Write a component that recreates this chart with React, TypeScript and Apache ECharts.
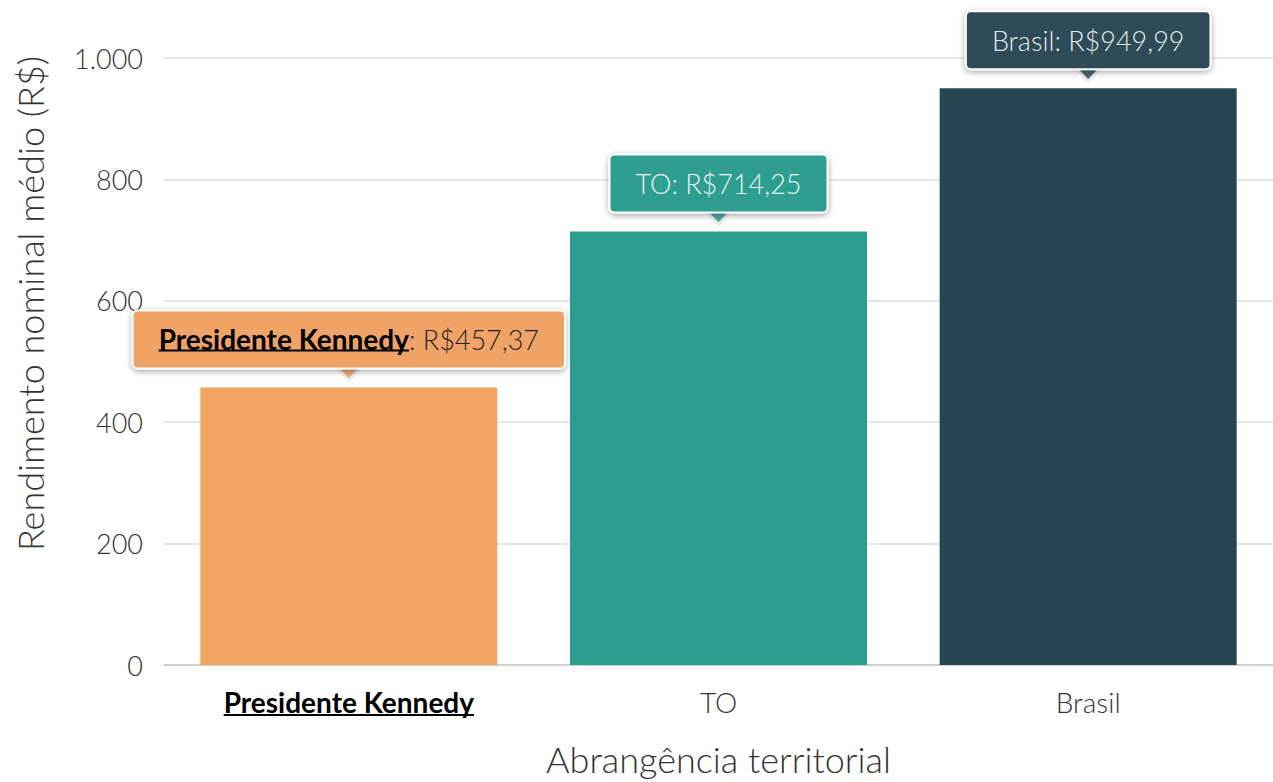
import React, { useEffect, useRef } from "react";
import * as echarts from "echarts";

const categories = ["Presidente Kennedy", "TO", "Brasil"];
const values = [457.37, 714.25, 949.99];
const barColors = ["#f2a462", "#2a9d8f", "#264653"];
const boxColors = ["#f0a366", "#2f9e90", "#2d4c59"];
const boxTextColors = ["#1e1e1e", "#e8f5f3", "#e3e9eb"];
const yTicks = [0, 200, 400, 600, 800, 1000];
const highlighted = "Presidente Kennedy";

const FONT = "Lato";
const LIGHT = "'Lato Light', Lato";

const fmtMoney = (v: number) => "R$" + v.toFixed(2).replace(".", ",");
const fmtThousands = (v: number) =>
  String(Math.round(v)).replace(/\B(?=(\d{3})+(?!\d))/g, ".");

function measure(text: string, font: string) {
  const c = document.createElement("canvas");
  const ctx = c.getContext("2d")!;
  ctx.font = font;
  return ctx.measureText(text).width;
}

export default function App() {
  const ref = useRef<HTMLDivElement>(null);

  useEffect(() => {
    if (!ref.current) return;
    const chart = echarts.init(ref.current, null, { renderer: "svg" });
    const labelDistance = 20;
    const labelPad = [13, 25];
    const xLabelMargin = 23;
    const option: any = {
      animation: false,
      grid: { left: 164, top: 58, width: 1112, bottom: 114, containLabel: false },
      xAxis: {
        type: "category",
        data: categories,
        axisLine: { lineStyle: { color: "#c8c8c8", width: 1.5 } },
        axisTick: { show: false },
        axisLabel: {
          margin: xLabelMargin,
          fontFamily: LIGHT,
          fontSize: 28,
          fontWeight: 300,
          color: "#333",
          formatter: (v: string) => (v === highlighted ? "{h|" + v + "}" : v),
          rich: {
            h: { fontFamily: FONT, fontSize: 28, fontWeight: "bold", color: "#000" },
          },
        },
        name: "Abrangência territorial",
        nameLocation: "middle",
        nameGap: 76,
        nameTextStyle: { fontFamily: LIGHT, fontSize: 36, fontWeight: 300, color: "#333" },
      },
      yAxis: {
        type: "value",
        min: 0,
        max: 1000,
        interval: 200,
        axisLine: { show: false },
        axisTick: { show: false },
        splitLine: { lineStyle: { color: "#dcdcdc", width: 1.5 } },
        axisLabel: {
          margin: 21,
          fontFamily: LIGHT,
          fontSize: 27,
          fontWeight: 300,
          color: "#333",
          formatter: (v: number) => (yTicks.includes(v) ? fmtThousands(v) : ""),
        },
        name: "Rendimento nominal médio (R$)",
        nameLocation: "middle",
        nameGap: 116,
        nameTextStyle: {
          fontFamily: LIGHT,
          fontSize: 36,
          fontWeight: 300,
          color: "#333",
          padding: [0, 0, 0, 116],
        },
      },
      series: [
        {
          type: "scatter",
          z: 1,
          data: values.map((v, i) => ({
            value: v,
            itemStyle: {
              color: boxColors[i],
              borderColor: "#fff",
              borderWidth: 1.5,
              shadowColor: "rgba(0,0,0,0.3)",
              shadowBlur: 3,
              shadowOffsetY: 1,
            },
          })),
          symbol: "triangle",
          symbolRotate: 180,
          symbolSize: [30, 16],
          symbolOffset: [0, -16],
          silent: true,
        },
        {
          type: "bar",
          z: 2,
          barWidth: 297,
          data: values.map((v, i) => ({
            value: v,
            itemStyle: { color: barColors[i] },
            label: {
              show: true,
              position: "top",
              distance: labelDistance,
              backgroundColor: boxColors[i],
              borderColor: "#fff",
              borderWidth: 2,
              borderRadius: 4,
              shadowColor: "rgba(0,0,0,0.35)",
              shadowBlur: 6,
              shadowOffsetY: 2,
              padding: labelPad,
              lineHeight: 30,
              fontFamily: LIGHT,
              fontSize: 27,
              fontWeight: 300,
              color: boxTextColors[i],
              formatter:
                categories[i] === highlighted
                  ? "{h|" + categories[i] + "}{v|: " + fmtMoney(v) + "}"
                  : categories[i] + ": " + fmtMoney(v),
              rich: {
                h: {
                  fontFamily: FONT,
                  fontSize: 28,
                  fontWeight: "bold",
                  color: "#000",
                  lineHeight: 30,
                },
                v: {
                  fontFamily: LIGHT,
                  fontSize: 27,
                  fontWeight: 300,
                  color: boxTextColors[i],
                  lineHeight: 30,
                },
              },
            },
          })),
        },
      ],
    };
    chart.setOption(option);

    // underlines for the highlighted category (x label and value box)
    const hi = categories.indexOf(highlighted);
    if (hi >= 0) {
      const [cx, axisY] = chart.convertToPixel({ xAxisIndex: 0, yAxisIndex: 0 }, [hi, 0]) as number[];
      const [, topY] = chart.convertToPixel({ xAxisIndex: 0, yAxisIndex: 0 }, [hi, values[hi]]) as number[];
      const wBold = measure(highlighted, `bold 28px ${FONT}`);
      const wRest = measure(": " + fmtMoney(values[hi]), `300 27px ${LIGHT}`);
      const labelLineY = axisY + xLabelMargin + 14 + 12;
      const boxBottom = topY - labelDistance;
      const boxCenter = boxBottom - 2 - labelPad[0] - 15;
      const startX = cx - (wBold + wRest) / 2;
      chart.setOption({
        graphic: [
          {
            type: "rect",
            silent: true,
            z: 100,
            shape: { x: cx - wBold / 2, y: labelLineY, width: wBold, height: 2 },
            style: { fill: "#000" },
          },
          {
            type: "rect",
            silent: true,
            z: 100,
            shape: { x: startX, y: boxCenter + 12, width: wBold, height: 2 },
            style: { fill: "#000" },
          },
        ],
      });
    }

    return () => chart.dispose();
  }, []);

  return (
    <div
      ref={ref}
      style={{ position: "absolute", left: 0, top: 0, width: 1273, height: 782 }}
    />
  );
}
